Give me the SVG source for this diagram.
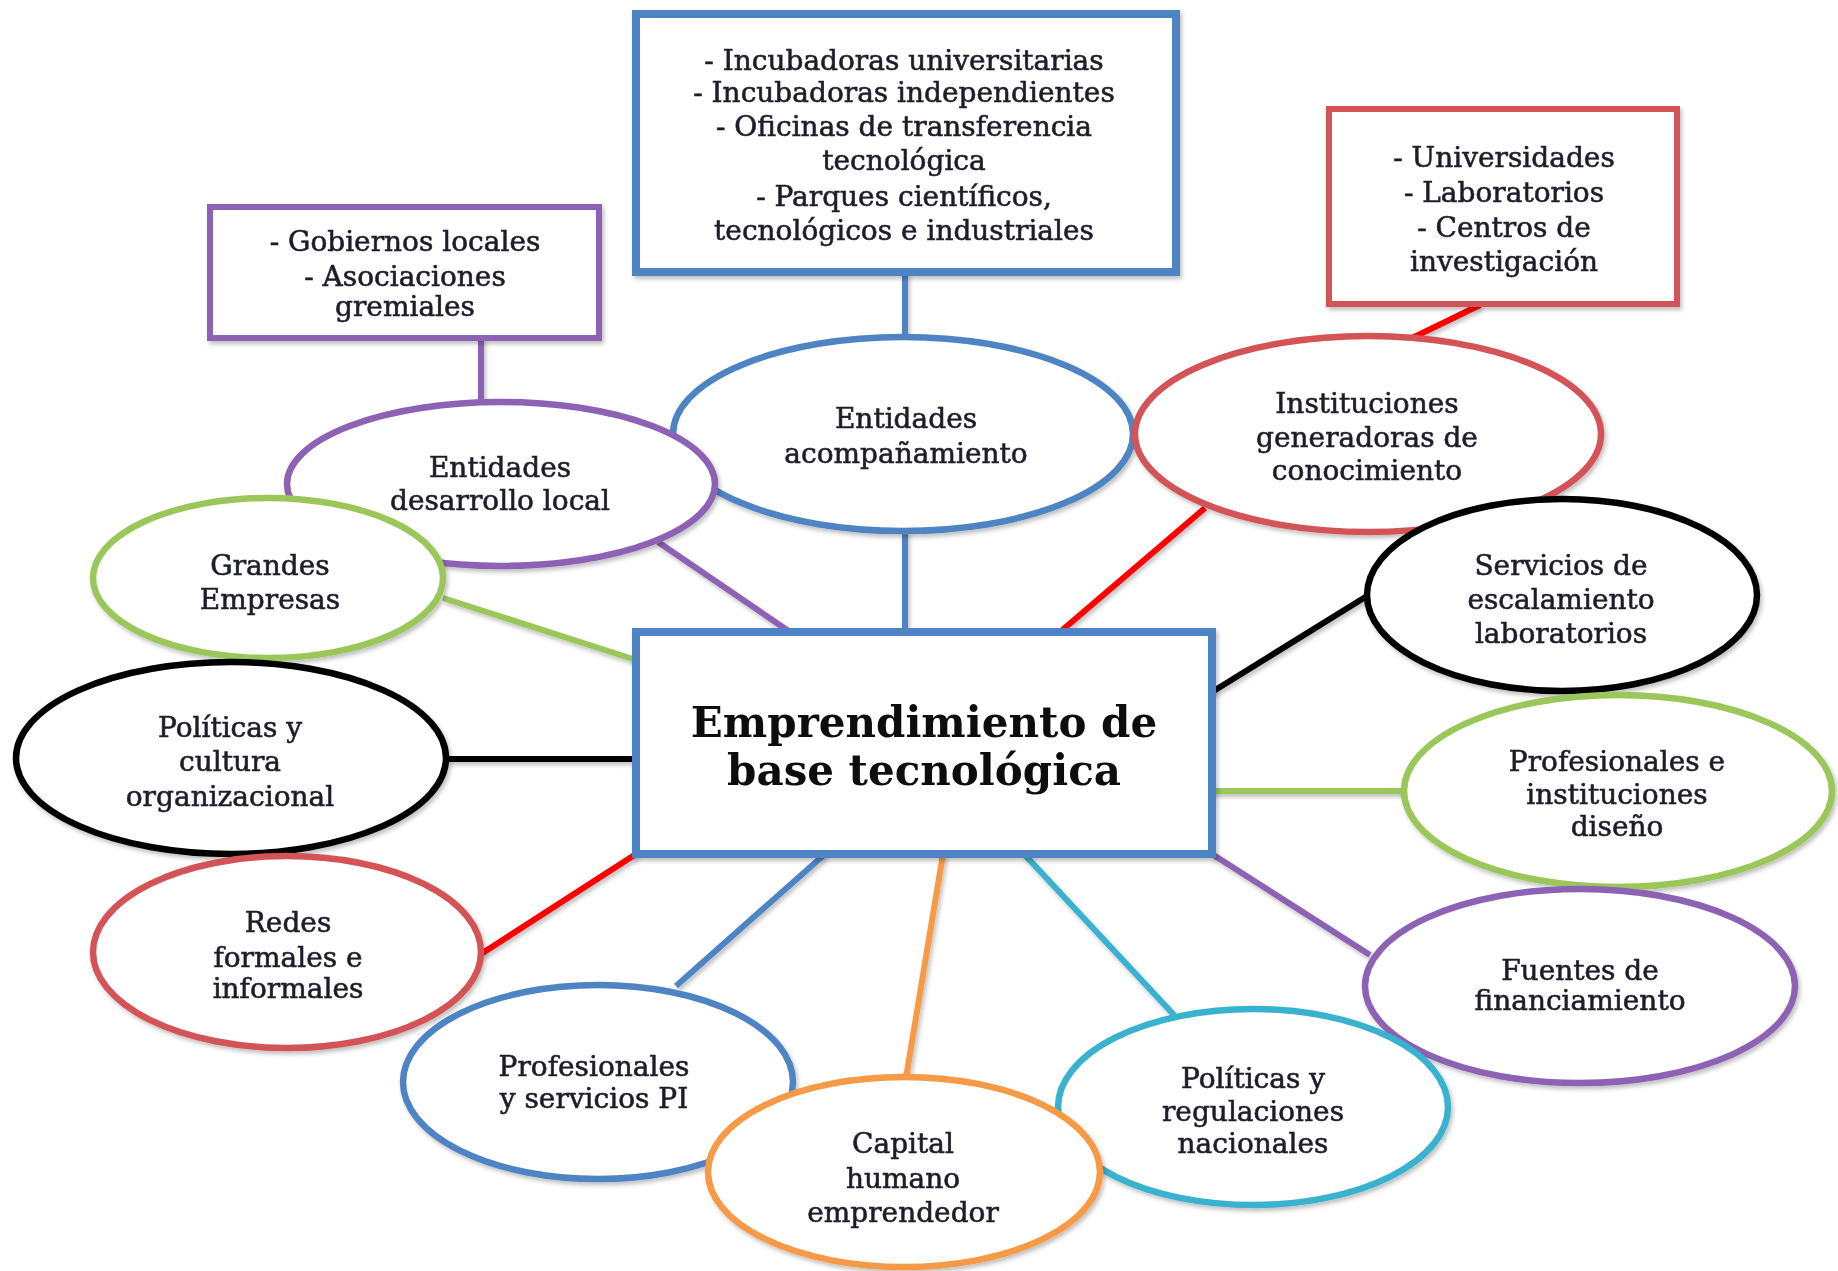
<svg xmlns="http://www.w3.org/2000/svg" width="1838" height="1271" viewBox="0 0 1838 1271">
<style>
  .t { font-family: "DejaVu Serif", "Liberation Serif", serif; font-size: 28px; fill: #1e1e2a; stroke: #1e1e2a; stroke-width: 0.6; text-anchor: middle; }
  .title { font-family: "DejaVu Serif", "Liberation Serif", serif; font-size: 42px; font-weight: bold; fill: #111; text-anchor: middle; }
  .node { fill: #fff; stroke-width: 6.5; }
  .box { fill: #fff; }
  .c { fill: none; stroke-width: 6; stroke-linecap: butt; }
  .blue { stroke: #4f84c4; }
  .purple { stroke: #8d62b5; }
  .red { stroke: #d35257; }
  .green { stroke: #9bc75a; }
  .black { stroke: #000; }
  .cyan { stroke: #38b2cf; }
  .orange { stroke: #f79a46; }
  .bred { stroke: #ff0000; }
</style>
<defs>
  <filter id="sh" x="-10%" y="-10%" width="120%" height="130%">
    <feDropShadow dx="2" dy="3" stdDeviation="2" flood-color="#000" flood-opacity="0.25"/>
  </filter>
</defs>
<rect width="1838" height="1271" fill="#fff"/>

<g id="connectors" filter="url(#sh)">
  <line class="c blue" x1="905" y1="272" x2="905" y2="338"/>
  <line class="c blue" x1="905" y1="530" x2="905" y2="632"/>
  <line class="c purple" x1="481" y1="338" x2="481" y2="403"/>
  <line class="c purple" x1="658" y1="542" x2="790" y2="632"/>
  <line class="c bred" x1="1480" y1="305" x2="1408" y2="340"/>
  <line class="c bred" x1="1205" y1="508" x2="1060" y2="632"/>
  <line class="c green" x1="443" y1="598" x2="636" y2="660"/>
  <line class="c black" x1="1212" y1="692" x2="1367" y2="596"/>
  <line class="c black" x1="446" y1="759" x2="636" y2="759"/>
  <line class="c green" x1="1212" y1="791" x2="1404" y2="791"/>
  <line class="c purple" x1="1212" y1="854" x2="1370" y2="955"/>
  <line class="c cyan" x1="1024" y1="854" x2="1174" y2="1015"/>
  <line class="c orange" x1="943" y1="854" x2="906" y2="1078"/>
  <line class="c blue" x1="825" y1="854" x2="676" y2="986"/>
  <line class="c bred" x1="481" y1="954" x2="636" y2="854"/>
</g>

<g id="box-acompanamiento" filter="url(#sh)">
  <rect class="box blue" x="636" y="14" width="540" height="258" stroke-width="8"/>
  <text class="t" x="904" y="70">- Incubadoras universitarias</text>
  <text class="t" x="904" y="102">- Incubadoras independientes</text>
  <text class="t" x="904" y="136">- Oficinas de transferencia</text>
  <text class="t" x="904" y="170">tecnológica</text>
  <text class="t" x="904" y="206">- Parques científicos,</text>
  <text class="t" x="904" y="240">tecnológicos e industriales</text>
</g>

<g id="box-desarrollo" filter="url(#sh)">
  <rect class="box purple" x="210" y="207" width="389" height="131" stroke-width="6"/>
  <text class="t" x="405" y="251">- Gobiernos locales</text>
  <text class="t" x="405" y="286">- Asociaciones</text>
  <text class="t" x="405" y="316">gremiales</text>
</g>

<g id="box-instituciones" filter="url(#sh)">
  <rect class="box red" x="1329" y="109" width="348" height="195" stroke-width="6"/>
  <text class="t" x="1504" y="167">- Universidades</text>
  <text class="t" x="1504" y="202">- Laboratorios</text>
  <text class="t" x="1504" y="237">- Centros de</text>
  <text class="t" x="1504" y="271">investigación</text>
</g>

<g id="n-acompanamiento" filter="url(#sh)">
  <ellipse class="node blue" cx="903" cy="434" rx="230" ry="97"/>
  <text class="t" x="906" y="428">Entidades</text>
  <text class="t" x="906" y="463">acompañamiento</text>
</g>

<g id="n-desarrollo" filter="url(#sh)">
  <ellipse class="node purple" cx="501" cy="484" rx="214" ry="82"/>
  <text class="t" x="500" y="477">Entidades</text>
  <text class="t" x="500" y="510">desarrollo local</text>
</g>

<g id="n-grandes" filter="url(#sh)">
  <ellipse class="node green" cx="268" cy="578" rx="175" ry="80"/>
  <text class="t" x="270" y="575">Grandes</text>
  <text class="t" x="270" y="609">Empresas</text>
</g>

<g id="n-instituciones" filter="url(#sh)">
  <ellipse class="node red" cx="1368" cy="434" rx="233" ry="98"/>
  <text class="t" x="1367" y="413">Instituciones</text>
  <text class="t" x="1367" y="447">generadoras de</text>
  <text class="t" x="1367" y="480">conocimiento</text>
</g>

<g id="n-servicios" filter="url(#sh)">
  <ellipse class="node black" cx="1562" cy="595" rx="195" ry="96"/>
  <text class="t" x="1561" y="575">Servicios de</text>
  <text class="t" x="1561" y="609">escalamiento</text>
  <text class="t" x="1561" y="643">laboratorios</text>
</g>

<g id="n-central" filter="url(#sh)">
  <rect class="box blue" x="636" y="632" width="576" height="222" stroke-width="8"/>
  <text class="title" x="924" y="737">Emprendimiento de</text>
  <text class="title" x="924" y="785">base tecnológica</text>
</g>

<g id="n-politicas-cultura" filter="url(#sh)">
  <ellipse class="node black" cx="231" cy="758" rx="215" ry="96"/>
  <text class="t" x="230" y="737">Políticas y</text>
  <text class="t" x="230" y="771">cultura</text>
  <text class="t" x="230" y="806">organizacional</text>
</g>

<g id="n-diseno" filter="url(#sh)">
  <ellipse class="node green" cx="1618" cy="791" rx="214" ry="96"/>
  <text class="t" x="1617" y="771">Profesionales e</text>
  <text class="t" x="1617" y="804">instituciones</text>
  <text class="t" x="1617" y="836">diseño</text>
</g>

<g id="n-fuentes" filter="url(#sh)">
  <ellipse class="node purple" cx="1580" cy="986" rx="215" ry="97"/>
  <text class="t" x="1580" y="980">Fuentes de</text>
  <text class="t" x="1580" y="1010">financiamiento</text>
</g>

<g id="n-redes" filter="url(#sh)">
  <ellipse class="node red" cx="287" cy="952" rx="194" ry="96"/>
  <text class="t" x="288" y="932">Redes</text>
  <text class="t" x="288" y="967">formales e</text>
  <text class="t" x="288" y="998">informales</text>
</g>

<g id="n-pi" filter="url(#sh)">
  <ellipse class="node blue" cx="598" cy="1082" rx="195" ry="97"/>
  <text class="t" x="594" y="1076">Profesionales</text>
  <text class="t" x="594" y="1108">y servicios PI</text>
</g>

<g id="n-regulaciones" filter="url(#sh)">
  <ellipse class="node cyan" cx="1253" cy="1107" rx="195" ry="98"/>
  <text class="t" x="1253" y="1088">Políticas y</text>
  <text class="t" x="1253" y="1121">regulaciones</text>
  <text class="t" x="1253" y="1153">nacionales</text>
</g>

<g id="n-capital" filter="url(#sh)">
  <ellipse class="node orange" cx="904" cy="1172" rx="196" ry="95"/>
  <text class="t" x="903" y="1153">Capital</text>
  <text class="t" x="903" y="1188">humano</text>
  <text class="t" x="903" y="1222">emprendedor</text>
</g>
</svg>
